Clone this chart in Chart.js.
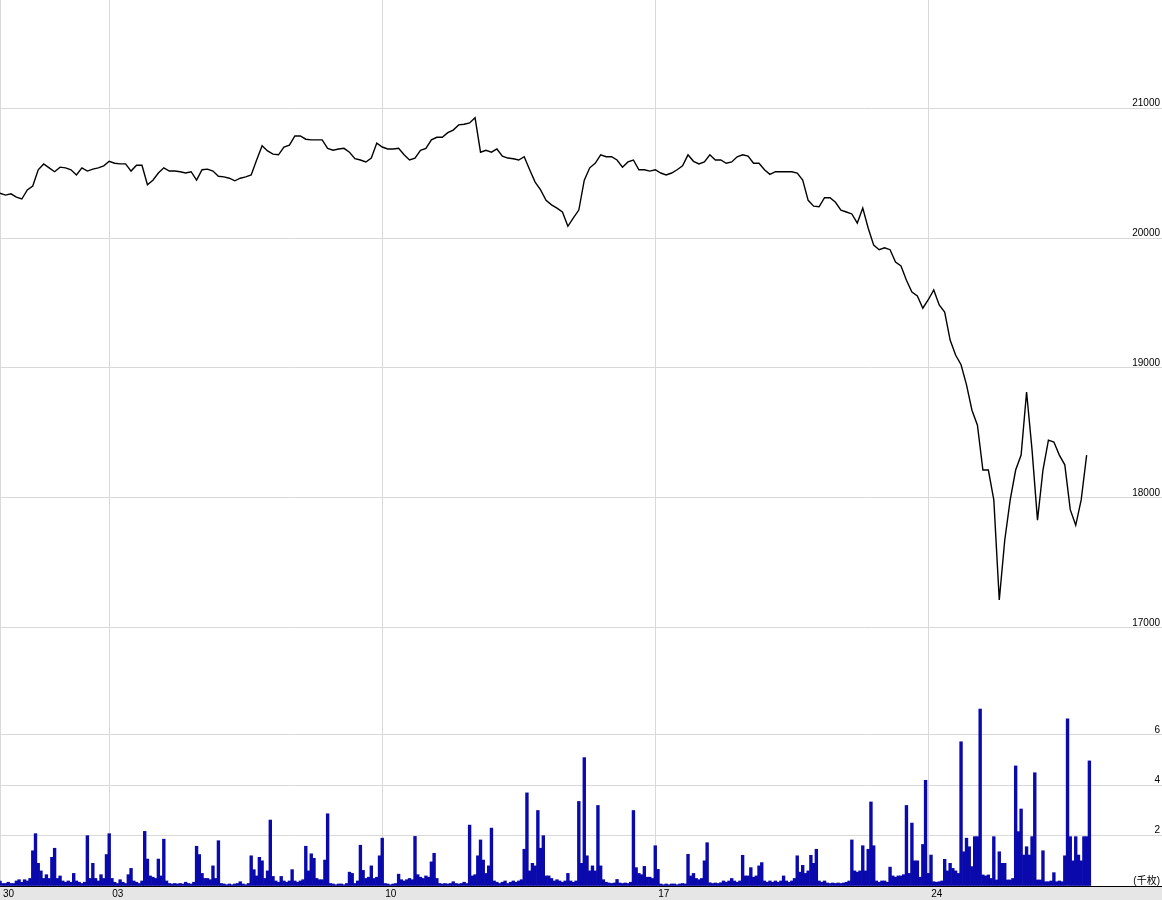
<!DOCTYPE html>
<html>
<head>
<meta charset="utf-8">
<script src="https://cdn.jsdelivr.net/npm/chart.js@4.4.1/dist/chart.umd.min.js"></script>
<style>
  body { margin: 0; background: #fff; }
  canvas { display: block; }
</style>
</head>
<body>
<canvas id="chart" width="1162" height="900"></canvas>
<script>
// ============================
// Data (x in trading days from the left edge)
// ============================
const priceStep  = 0.1;   // days between price samples
const volumeStep = 0.05;  // days between volume bars

const priceValues = [
  20345,20330,20340,20315,20300,20370,20400,20525,20570,20540,
  20510,20545,20540,20525,20485,20540,20515,20530,20540,20555,
  20590,20575,20570,20570,20515,20560,20560,20410,20445,20500,
  20540,20515,20515,20510,20500,20510,20445,20525,20530,20515,
  20475,20470,20460,20440,20460,20470,20485,20600,20710,20670,
  20645,20640,20700,20715,20785,20785,20760,20755,20755,20755,
  20690,20675,20685,20690,20660,20610,20600,20585,20615,20730,
  20700,20685,20685,20690,20640,20600,20615,20675,20690,20755,
  20775,20775,20810,20830,20870,20875,20885,20925,20660,20675,
  20660,20685,20630,20615,20610,20600,20625,20525,20430,20370,
  20290,20255,20230,20200,20090,20155,20215,20445,20540,20575,
  20640,20625,20625,20600,20545,20585,20600,20525,20525,20515,
  20525,20500,20485,20500,20525,20555,20640,20590,20570,20585,
  20640,20600,20600,20575,20585,20625,20640,20630,20575,20575,
  20525,20490,20510,20510,20510,20510,20500,20445,20290,20245,
  20240,20310,20310,20275,20215,20200,20185,20115,20230,20075,
  19945,19910,19925,19910,19815,19785,19675,19585,19555,19460,
  19525,19600,19485,19430,19215,19100,19025,18870,18675,18560,
  18215,18215,17985,17215,17675,17985,18215,18330,18815,18370,
  17830,18215,18445,18430,18330,18255,17910,17790,17985,18330
];

// volume in thousands
const volumeValues = [
  0.2,0.1,0.1,0.15,0.1,0.1,0.2,0.25,0.15,0.25,0.2,0.3,1.4,2.08,0.9,0.6,0.3,0.45,0.3,1.14,
  1.5,0.3,0.4,0.2,0.15,0.2,0.15,0.5,0.2,0.15,0.1,0.15,2.0,0.3,0.9,0.3,0.2,0.45,0.3,1.25,
  2.08,0.3,0.15,0.1,0.25,0.15,0.1,0.45,0.7,0.2,0.15,0.1,0.2,2.17,1.07,0.4,0.35,0.3,1.07,0.4,
  1.86,0.2,0.1,0.08,0.1,0.08,0.1,0.08,0.15,0.1,0.08,0.15,1.58,1.25,0.5,0.3,0.3,0.25,0.8,0.3,
  1.8,0.1,0.08,0.05,0.08,0.05,0.08,0.1,0.17,0.08,0.05,0.1,1.2,0.65,0.4,1.14,1.0,0.3,0.6,2.62,
  0.38,0.2,0.15,0.38,0.2,0.15,0.2,0.65,0.2,0.15,0.2,0.25,1.58,0.6,1.28,1.1,0.3,0.25,0.25,1.03,
  2.87,0.1,0.08,0.05,0.08,0.08,0.05,0.1,0.55,0.5,0.1,0.2,1.62,0.62,0.3,0.35,0.8,0.3,0.35,1.2,
  1.9,0.1,0.08,0.05,0.08,0.1,0.47,0.25,0.2,0.25,0.3,0.25,1.97,0.45,0.35,0.3,0.4,0.35,0.96,1.3,
  0.3,0.1,0.08,0.1,0.08,0.1,0.17,0.1,0.08,0.1,0.15,0.1,2.42,0.4,0.45,1.2,1.83,1.03,0.5,0.8,
  2.3,0.2,0.15,0.1,0.15,0.2,0.1,0.15,0.2,0.15,0.2,0.25,1.46,3.7,0.6,0.9,0.8,3.0,1.5,2.0,
  0.4,0.4,0.3,0.2,0.25,0.2,0.15,0.2,0.5,0.2,0.15,0.2,3.36,0.9,5.1,1.2,0.6,0.8,0.6,3.2,
  0.8,0.25,0.15,0.12,0.1,0.12,0.26,0.12,0.1,0.12,0.1,0.15,3.0,0.73,0.5,0.45,0.78,0.35,0.35,0.3,
  1.6,0.66,0.08,0.05,0.08,0.05,0.08,0.08,0.05,0.08,0.1,0.08,1.26,0.4,0.5,0.3,0.25,0.3,1.0,1.72,
  0.13,0.1,0.12,0.1,0.13,0.2,0.15,0.2,0.3,0.2,0.15,0.2,1.22,0.4,0.4,0.73,0.35,0.4,0.8,0.93,
  0.2,0.15,0.2,0.15,0.2,0.15,0.2,0.4,0.2,0.15,0.2,0.3,1.2,0.55,0.82,0.5,0.6,1.22,0.9,1.46,
  0.2,0.15,0.2,0.12,0.1,0.12,0.1,0.12,0.1,0.12,0.15,0.2,1.83,0.6,0.55,0.6,1.6,0.6,1.46,3.34,
  1.6,0.2,0.15,0.2,0.2,0.15,0.75,0.4,0.35,0.4,0.4,0.45,3.2,0.5,2.5,1.0,1.0,0.35,1.65,4.2,
  0.5,1.23,0.17,0.15,0.17,0.2,1.06,0.6,0.9,0.7,0.6,0.5,5.73,1.36,1.9,1.56,0.77,1.96,1.96,7.03,
  0.44,0.4,0.44,0.3,1.96,0.24,1.36,0.9,0.9,0.24,0.24,0.3,4.77,2.16,3.06,1.23,1.56,1.23,1.96,4.5,
  0.24,0.24,1.4,0.17,0.17,0.2,0.53,0.17,0.2,0.17,1.2,6.64,1.96,1.0,1.96,1.23,1.0,1.96,1.96,4.97
];

const tickDays   = [0, 2, 7, 12, 17];
const tickLabels = ['30', '03', '10', '17', '24'];

const priceTicks  = [17000, 18000, 19000, 20000, 21000];
const volumeTicks = [0, 2, 4, 6];
const volumeTickLabels = ['(千枚)', '2', '4', '6'];

// ============================
// Styling
// ============================
const FONT = '"Liberation Sans", "Noto Sans CJK JP", sans-serif';
const GRID = '#d9d9d9';

// gray strip under the plot for the date labels
const stripBg = {
  id: 'stripBg',
  beforeDraw(chart) {
    const { ctx, chartArea, width, height } = chart;
    ctx.save();
    ctx.fillStyle = '#e6e6e6';
    ctx.fillRect(0, chartArea.bottom, width, height - chartArea.bottom);
    ctx.restore();
  }
};

// right-side axes: labels drawn inside the plot, no reserved room
function fitInside(s) {
  s.width = 0;
  s.paddingTop = 0;
  s.paddingBottom = 0;
}

const ctx = document.getElementById('chart').getContext('2d');

new Chart(ctx, {
  type: 'line',
  data: {
    datasets: [
      {
        type: 'line',
        data: priceValues.map((v, i) => ({ x: i * priceStep, y: v })),
        yAxisID: 'price',
        borderColor: '#000',
        borderWidth: 1.4,
        pointRadius: 0,
        tension: 0
      },
      {
        type: 'bar',
        data: volumeValues.map((v, i) => ({ x: i * volumeStep, y: v })),
        yAxisID: 'vol',
        backgroundColor: '#0a0aac',
        borderWidth: 0,
        barPercentage: 1,
        categoryPercentage: 1
      }
    ]
  },
  options: {
    responsive: false,
    animation: false,
    layout: { padding: 0 },
    plugins: {
      legend: { display: false },
      tooltip: { enabled: false }
    },
    scales: {
      x: {
        type: 'linear',
        position: 'bottom',
        min: 0,
        max: 21.28,
        offset: false,
        afterBuildTicks: s => { s.ticks = tickDays.map(v => ({ value: v })); },
        afterFit: s => { s.height = 14; s.paddingLeft = 0; s.paddingRight = 0; },
        grid: { color: GRID, drawTicks: false, offset: false },
        border: { display: true, color: '#000', width: 1 },
        ticks: {
          align: 'start',
          labelOffset: 3,
          padding: 2,
          maxRotation: 0,
          autoSkip: false,
          color: '#000',
          font: { family: FONT, size: 10 },
          callback: (v, i) => tickLabels[i]
        }
      },
      price: {
        type: 'linear',
        position: 'right',
        min: 15015,
        max: 21831,
        afterBuildTicks: s => { s.ticks = priceTicks.map(v => ({ value: v })); },
        afterFit: fitInside,
        grid: { color: GRID, drawTicks: false },
        border: { display: false },
        ticks: {
          mirror: true,
          padding: -2,
          labelOffset: -5,
          color: '#000',
          font: { family: FONT, size: 10 },
          callback: v => String(v)
        }
      },
      vol: {
        type: 'linear',
        position: 'right',
        min: 0,
        max: 35.2,
        afterBuildTicks: s => { s.ticks = volumeTicks.map(v => ({ value: v })); },
        afterFit: fitInside,
        grid: {
          color: c => (c.tick && c.tick.value === 0 ? '#000' : GRID),
          drawTicks: false
        },
        border: { display: false },
        ticks: {
          mirror: true,
          padding: -2,
          labelOffset: -5,
          color: '#000',
          font: { family: FONT, size: 10 },
          callback: (v, i) => volumeTickLabels[i]
        }
      }
    }
  },
  plugins: [stripBg]
});
</script>
</body>
</html>
